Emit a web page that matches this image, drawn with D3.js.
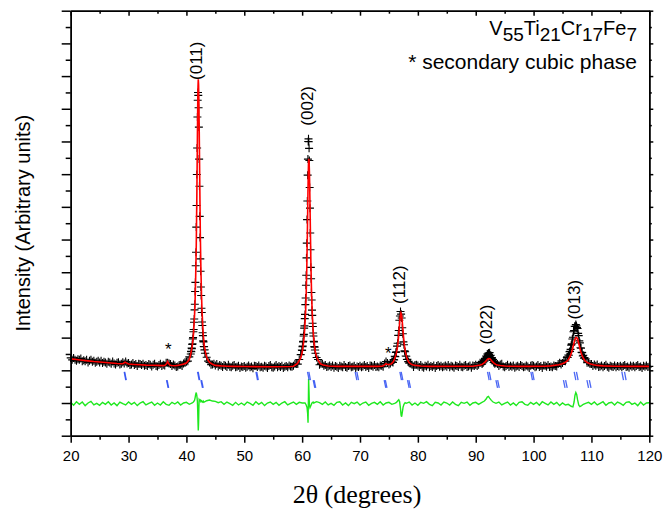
<!DOCTYPE html>
<html>
<head>
<meta charset="utf-8">
<script src="https://cdn.jsdelivr.net/npm/d3@7"></script>
<style>
  body { margin: 0; background: #fff; }
  svg { display: block; }
  text { font-family: "Liberation Sans", Arial, sans-serif; }
</style>
</head>
<body>
<svg id="chart"></svg>
<script>
// observed pattern, coarse grid 20..120 step 0.25 (null where a fine peak scan is used)
const obsStart = 20, obsStep = 0.25;
const obsCoarse = [
  238,232,238,232,229,234,232,236,228,231,228,232,224,229,232,226,229,223,226,229,
  224,229,222,226,224,220,226,224,220,227,221,218,223,225,218,220,225,221,227,221,
  222,216,218,222,216,219,213,220,219,216,220,214,216,213,219,217,212,217,220,213,
  212,216,220,213,217,215,223,223,221,219,213,218,215,210,212,216,217,213,221,225,
  226,228,241,250,null,null,null,null,null,null,null,null,null,252,240,228,224,217,218,220,
  215,219,212,216,214,210,216,214,210,217,211,209,214,216,209,211,214,207,212,210,
  213,208,211,215,209,212,206,214,213,210,215,209,211,208,214,212,207,213,216,209,
  208,212,216,209,213,210,214,207,211,213,209,215,212,211,214,220,219,219,233,248,
  null,null,null,null,null,null,null,null,null,null,239,233,217,220,220,214,216,210,212,215,
  210,215,208,213,211,207,214,212,209,216,210,208,213,215,209,211,214,207,212,210,
  214,209,212,216,210,213,207,215,214,211,216,210,212,209,215,214,211,221,227,222,
  218,221,226,null,null,null,null,null,null,null,null,null,null,null,222,222,217,210,216,217,
  215,210,216,211,208,214,212,217,209,213,210,215,207,213,216,211,214,209,212,215,
  211,216,209,214,212,208,215,213,210,217,211,209,214,216,210,212,215,208,215,213,
  217,213,217,223,null,null,null,null,null,null,null,null,null,null,223,219,213,218,220,212,
  209,213,217,210,214,211,215,208,212,214,210,216,213,209,211,215,212,207,214,216,
  214,209,212,216,210,213,207,215,214,211,216,210,212,209,215,213,212,219,223,218,
  222,231,228,239,null,null,null,null,null,null,null,null,null,null,null,null,235,223,224,219,
  219,213,218,214,218,210,212,215,209,213,217,211,208,214,212,210,215,209,213,211,
  214,209,213,216,210,212,208,215,211,214,209,213,216,210,212,207,214,211,215,210,
  212
];

// fine scans over the reflections: [start, step, counts]
const scan011 = [40.8, 0.05, [258,257,268,266,279,281,296,300,318,325,347,357,385,402,441,469,520,561,638,704,
  799,880,975,1026,1050,1041,1003,944,846,763,671,606,541,503,455,429,390,377,348,337,315,306,290,287,273,272,262,263,252]];
const scan002 = [59.95, 0.05, [262,261,272,274,287,289,305,310,329,336,358,371,401,421,460,491,544,589,661,718,
  797,846,900,908,899,879,842,759,696,620,569,515,480,438,415,384,368,344,334,314,305,289,287,273,271,262,262,252]];
const scan112 = [75.6, 0.1, [226,224,233,232,243,242,255,257,274,283,307,322,353,366,380,372,360,330,312,287,
  278,260,257,244,243,233,234,226,227]];
const scan022 = [91.0, 0.1, [225,219,227,223,231,228,237,235,244,241,250,246,253,248,254,245,246,237,239,230,
  233,224,227,220,225]];
const scan013 = [105.8, 0.1, [241,239,247,246,257,258,264,277,281,296,301,318,322,335,334,340,336,331,328,313,
  306,290,284,269,268,255,254,244,246,237,239]];

// calculated profile [2theta, intensity]
const calcPts = [
  [20,235],[21,233],[22,231],[23,229],[24,227],[25,225.5],[26,224],[27,222.5],[28,221],[28.8,220.2],[29.1,221],
  [29.4,225],[29.7,222],[30,219.2],[31,218],[32,217],[33,216],[34,215.5],[35,215],[36,214.5],[36.3,215.5],
  [36.55,220],[36.75,227],[36.95,220],[37.2,215.5],[37.5,214.5],[38,214],[38.5,215],[39,217],[39.5,219],[40,222],
  [40.5,233],[40.75,250],[41.0,273],[41.2,307],[41.4,367],[41.5,415],[41.6,485],[41.7,581],[41.8,730],[41.9,915],
  [41.95,1002],[42.0,1066],[42.05,1090],[42.1,1075],[42.15,1026],[42.2,957],[42.3,782],[42.4,618],[42.5,512],
  [42.6,435],[42.7,380],[42.9,311],[43.1,273],[43.35,250],[43.6,235],[44.0,224],[44.5,218.5],[45,215],[46,213.5],
  [47,212.5],[48,212],[50,211.5],[55,211],[58,211.5],[58.5,212.5],[59.15,220],[59.65,234],[59.85,244],[60.05,259],
  [60.25,285],[60.45,327],[60.6,380],[60.7,434],[60.8,510],[60.9,615],[61.0,739],[61.05,793],[61.1,834],[61.15,847],
  [61.2,840],[61.25,810],[61.3,771],[61.4,655],[61.5,540],[61.6,456],[61.7,397],[61.85,334],[62.05,287],[62.25,259],
  [62.45,244],[62.65,234],[63.15,220],[63.65,216],[64.5,213],[66,212],[73,212],[73.8,212.5],[74.1,214.5],[74.3,217.5],
  [74.5,220],[74.7,218.5],[74.9,217.5],[75.07,218.5],[75.37,219.5],[75.67,224],[75.87,230],[76.07,239.5],[76.27,251],
  [76.37,260],[76.47,271],[76.57,285.5],[76.67,304],[76.77,325.5],[76.87,349],[76.97,368],[77.07,376],[77.17,371],
  [77.27,356],[77.37,334.5],[77.47,313],[77.57,293],[77.67,277],[77.77,264],[77.87,254],[78.07,240],[78.27,230],
  [78.47,224],[78.77,219.5],[79.07,217],[79.6,215],[80.5,213],[82,212],[89.5,212.5],[90.25,214.6],[90.75,216.3],
  [91.05,218.1],[91.35,221],[91.65,225.8],[91.85,230],[92.05,234.2],[92.25,236],[92.45,235.3],[92.65,231.5],
  [92.85,227.2],[93.15,221.8],[93.45,218.1],[93.75,216.3],[94.25,214.6],[95,213.3],[96,212.5],[98,212],[102,212.5],
  [103,213.5],[104.35,217.2],[104.85,219.4],[105.35,223],[105.75,228],[106.05,234],[106.35,244],[106.55,253.6],
  [106.75,266.3],[106.95,281.3],[107.15,295],[107.35,301],[107.55,298.4],[107.75,286.9],[107.95,271.7],[108.15,257.8],
  [108.35,246.6],[108.65,235.4],[108.95,228],[109.35,223],[109.85,219.4],[110.35,217.2],[111,215],[112,213.5],
  [114,212.5],[117,212],[120,212]
];

// difference (obs - calc), coarse grid 20..120 step 0.5, plus fine points at reflections
const diffOffset = 98;
const diffStart = 20, diffStep = 0.5;
const diffCoarse = [
  4,-5,6,-2,5,-6,2,7,-4,1,
  -5,4,-2,6,-4,2,-6,5,0,-4,
  5,-2,4,-6,2,6,-4,1,5,-5,
  2,-4,6,-2,-5,4,-1,5,-4,2,
  4,-2,null,null,null,null,null,9,11,8,
  7,3,6,-2,5,0,-5,4,-4,2,
  -4,5,1,-5,6,-2,4,-6,2,5,
  -2,4,-5,2,6,-4,1,5,-2,4,
  2,null,null,null,null,6,3,-2,5,-4,
  1,-5,4,6,-4,2,-6,4,0,5,
  -4,2,5,-5,1,4,-2,6,-4,2,
  4,-2,null,null,null,null,null,5,-4,2,
  -5,4,1,6,-2,-6,4,2,-4,5,
  2,-4,5,-2,-6,4,1,5,-5,2,
  4,-2,null,null,null,null,null,null,5,-4,
  1,5,-4,2,-6,4,6,-2,-5,4,
  -2,4,-5,6,1,-4,5,-2,4,-6,
  2,-4,null,null,null,null,null,null,null,4,
  -2,5,-4,1,6,-5,2,4,-4,5,
  1,-5,4,6,-2,2,-6,5,-4,2,
  3
];
const diffPeaks = [
  [41.0,2],[41.2,5],[41.4,10],[41.5,18],[41.6,28],[41.7,34],[41.8,25],[41.9,6],[41.95,-20],[42.0,-55],
  [42.05,-82],[42.1,-60],[42.15,-15],[42.2,12],[42.3,9],[42.4,11],[42.5,6],[42.6,9],[42.75,5],[42.9,8],[43.0,4],
  [60.5,2],[60.7,-4],[60.85,-12],[60.95,-30],[61.02,-58],[61.08,10],[61.12,76],[61.18,40],[61.25,-5],[61.35,-12],
  [61.5,-6],[61.7,2],[61.9,5],[62.0,2],
  [76.0,1],[76.3,4],[76.5,8],[76.7,12],[76.85,6],[77.0,-15],[77.1,-35],[77.2,-40],[77.3,-28],[77.45,-10],
  [77.6,-2],[77.8,3],[78.0,1],
  [91.0,3],[91.5,8],[91.8,14],[92.0,20],[92.2,22],[92.4,17],[92.7,10],[93.0,5],[93.5,1],
  [106.0,-2],[106.5,-8],[106.8,-10],[107.0,5],[107.15,25],[107.3,34],[107.45,28],[107.6,12],[107.8,-4],
  [108.0,-9],[108.3,-6],[108.6,-2],[109.0,1]
];

// Bragg positions (K-alpha1 and K-alpha2)
const mainHkl = [29.38, 42.06, 52.15, 61.07, 69.31, 77.03, 92.18, 99.67, 107.16, 115.4];
const mainHkl2 = [29.47, 42.17, 52.29, 61.3, 69.6, 77.26, 92.48, 99.95, 107.55, 115.85];
const secHkl = [36.7, 42.64, 62.05, 74.32, 78.35, 93.63, 105.3, 109.36];
const secHkl2 = [36.79, 42.76, 62.21, 74.52, 78.59, 93.93, 105.67, 109.78];

const peakLabels = ['(011)', '(002)', '(112)', '(022)', '(013)'];
const peakPos = [42.05, 61.15, 77.05, 92.2, 107.3];
const labelLevel = [1147, 1009, 462, 340, 416];
const starPos = [36.85, 74.9];
const starLevel = [247, 235];

const xMajor = [20, 30, 40, 50, 60, 70, 80, 90, 100, 110, 120];
const xMinor = [25, 35, 45, 55, 65, 75, 85, 95, 105, 115];
const yMajor = [0, 100, 200, 300, 400, 500, 600, 700, 800, 900, 1000, 1100, 1200, 1300];
const yMinor = [50, 150, 250, 350, 450, 550, 650, 750, 850, 950, 1050, 1150, 1250];

const W = 667, H = 518;
const margin = { top: 10.7, right: 17.7, bottom: 82.3, left: 70.7 };

const svg = d3.select('#chart').attr('width', W).attr('height', H);

const x = d3.scaleLinear().domain([20, 120]).range([margin.left, W - margin.right]);
const y = d3.scaleLinear().domain([0, 1300]).range([H - margin.bottom, margin.top]);

// collect observed points
const obs = [];
obsCoarse.forEach((v, i) => { if (v !== null) obs.push([obsStart + i * obsStep, v]); });
[scan011, scan002, scan112, scan022, scan013].forEach(([s, st, vals]) => {
  vals.forEach((v, i) => obs.push([s + i * st, v]));
});

const diff = [];
diffCoarse.forEach((v, i) => { if (v !== null) diff.push([diffStart + i * diffStep, v]); });
diffPeaks.forEach(d => diff.push(d));
diff.sort((a, b) => a[0] - b[0]);

// observed crosses
const cross = obs.map(([t, v]) => {
  const px = x(t), py = y(v);
  return `M${px - 4},${py}h8M${px},${py - 4}v8`;
}).join('');
svg.append('path')
  .attr('d', cross)
  .attr('fill', 'none')
  .attr('stroke', '#000')
  .attr('stroke-width', 1.1);

// calculated line
const line = d3.line().x(d => x(d[0])).y(d => y(d[1]));
svg.append('path')
  .datum(calcPts)
  .attr('fill', 'none')
  .attr('stroke', '#ff0000')
  .attr('stroke-width', 1.6)
  .attr('d', line);

// difference line
svg.append('path')
  .datum(diff)
  .attr('fill', 'none')
  .attr('stroke', '#1ee81e')
  .attr('stroke-width', 1.4)
  .attr('d', d3.line().x(d => x(d[0])).y(d => y(diffOffset + d[1])));

// Bragg tick rows
function braggRow(list, top, bottom) {
  svg.append('g').selectAll('line').data(list).join('line')
    .attr('x1', d => x(d) - 0.8).attr('x2', d => x(d) + 0.8)
    .attr('y1', y(top)).attr('y2', y(bottom))
    .attr('stroke', '#2b4cf2').attr('stroke-width', 1.3).attr('stroke-opacity', 0.85);
}
braggRow(mainHkl, 195, 170);
braggRow(mainHkl2, 195, 170);
braggRow(secHkl, 170, 146);
braggRow(secHkl2, 170, 146);

// axes
const axW = 1.5;
function styleAxis(g) {
  g.select('.domain').attr('stroke-width', axW);
  g.selectAll('.tick line').attr('stroke-width', axW);
}
const bottomY = H - margin.bottom;
svg.append('g').attr('transform', `translate(0,${bottomY})`)
  .call(d3.axisBottom(x).tickValues(xMinor).tickSize(4).tickSizeOuter(0).tickFormat(''))
  .call(styleAxis);
svg.append('g').attr('transform', `translate(0,${bottomY})`)
  .call(d3.axisBottom(x).tickValues(xMajor).tickSize(7).tickSizeOuter(0).tickPadding(8))
  .call(styleAxis)
  .call(g => g.selectAll('text').style('font-size', '15px').style('font-family', '"Liberation Sans", Arial, sans-serif').attr('fill', '#000'));

svg.append('g').attr('transform', `translate(0,${margin.top})`)
  .call(d3.axisTop(x).tickValues(xMinor).tickSize(-3).tickSizeOuter(0).tickFormat(''))
  .call(styleAxis);
svg.append('g').attr('transform', `translate(0,${margin.top})`)
  .call(d3.axisTop(x).tickValues(xMajor).tickSize(-5).tickSizeOuter(0).tickFormat(''))
  .call(styleAxis);

svg.append('g').attr('transform', `translate(${margin.left},0)`)
  .call(d3.axisLeft(y).tickValues(yMinor).tickSize(5).tickSizeOuter(0).tickFormat(''))
  .call(styleAxis);
svg.append('g').attr('transform', `translate(${margin.left},0)`)
  .call(d3.axisLeft(y).tickValues(yMajor).tickSize(9).tickSizeOuter(0).tickFormat(''))
  .call(styleAxis);

svg.append('g').attr('transform', `translate(${W - margin.right},0)`)
  .call(d3.axisRight(y).tickValues(yMinor).tickSize(2.5).tickSizeOuter(0).tickFormat(''))
  .call(styleAxis);
svg.append('g').attr('transform', `translate(${W - margin.right},0)`)
  .call(d3.axisRight(y).tickValues(yMajor).tickSize(4).tickSizeOuter(0).tickFormat(''))
  .call(styleAxis);

// peak labels
svg.append('g').selectAll('text').data(peakLabels).join('text')
  .attr('transform', (d, i) => `translate(${x(peakPos[i]) + 4},${y(labelLevel[i])}) rotate(-90)`)
  .attr('text-anchor', 'middle')
  .style('font-size', '17px')
  .text(d => d);

svg.append('g').selectAll('text').data(starPos).join('text')
  .attr('x', d => x(d)).attr('y', (d, i) => y(starLevel[i]))
  .attr('text-anchor', 'middle')
  .style('font-size', '17px')
  .text('*');

// composition and note
const comp = svg.append('text')
  .attr('x', 637).attr('y', 35)
  .attr('text-anchor', 'end')
  .style('font-size', '20px');
[['V', 0], ['55', 1], ['Ti', 0], ['21', 1], ['Cr', 0], ['17', 1], ['Fe', 0], ['7', 1]].forEach(([t, sub], i, arr) => {
  const prevSub = i > 0 ? arr[i - 1][1] : 0;
  comp.append('tspan')
    .attr('dy', sub && !prevSub ? 6 : (!sub && prevSub ? -6 : 0))
    .style('font-size', sub ? '19px' : '20px')
    .text(t);
});

svg.append('text')
  .attr('x', 637).attr('y', 69)
  .attr('text-anchor', 'end')
  .style('font-size', '21px')
  .text('* secondary cubic phase');

// axis titles
svg.append('text')
  .attr('transform', `translate(30,${(margin.top + bottomY) / 2}) rotate(-90)`)
  .attr('text-anchor', 'middle')
  .style('font-size', '20px')
  .text('Intensity (Arbitrary units)');

svg.append('text')
  .attr('x', 357)
  .attr('y', 503)
  .attr('text-anchor', 'middle')
  .style('font-family', '"Liberation Serif", "Times New Roman", serif')
  .style('font-size', '26px')
  .text('2θ (degrees)');
</script>
</body>
</html>
